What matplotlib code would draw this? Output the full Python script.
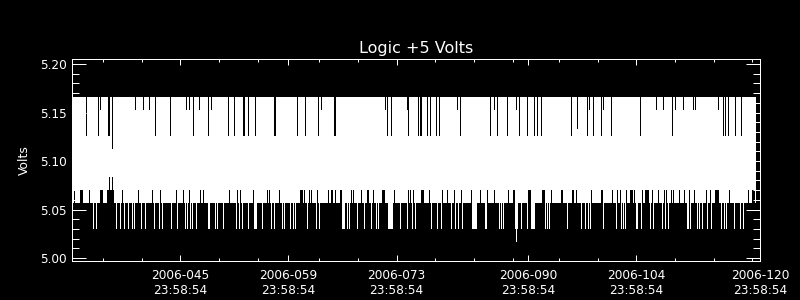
import datetime as dt
import numpy as np
import matplotlib
matplotlib.use("Agg")
import matplotlib.pyplot as plt
import matplotlib.dates as mdates

# ---- values (2006 day of year, fractional: 32.0 = doy 031 24:00) ----
data_start_doy = 32.0
data_end_doy = 120.37
bins_per_day = 688 / 89          # one max/min pair per ~3.1 h bin

band_top = 5.166                 # usual max in a bin
band_bottom = 5.058              # usual min in a bin

# bins where the max stayed lower
dip_153_days = [35.53, 40.06, 41.09, 41.87, 46.66, 47.05, 48.34, 49.94, 64.21, 72.40,
                75.21, 81.72, 86.50, 89.31, 98.79, 100.61, 107.42, 108.33, 109.88,
                110.96, 112.25, 112.51, 115.44]
dip_126_days = [33.77, 35.27, 36.57, 36.70, 42.65, 44.59, 47.62, 49.47, 52.09, 52.87,
                54.08, 54.21, 54.68, 55.58, 58.04, 58.17, 61.02, 62.14, 63.70, 65.80,
                65.93, 72.71, 73.14, 75.38, 76.67, 76.96, 77.09, 77.80, 78.19, 79.00,
                79.39, 82.07, 85.99, 86.85, 88.15, 89.74, 90.82, 91.68, 92.12, 92.55,
                96.52, 98.50, 99.31, 100.31, 101.60, 105.39, 109.49, 116.13, 116.35,
                116.74, 117.68, 118.42]
dip_other_days = [37.05, 97.24]
dip_other_volts = [5.112, 5.133]

# bins where the min stayed higher
low_071_days = [32.17, 33.03, 33.16, 33.29, 34.11, 35.53, 35.66, 35.79, 36.49, 36.62,
                36.88, 37.01, 37.27, 38.43, 40.50, 42.31, 43.38, 45.33, 46.32, 47.05,
                48.47, 48.91, 52.22, 53.22, 53.73, 55.29, 57.19, 57.40, 58.04, 58.69,
                60.11, 61.41, 61.54, 61.67, 62.01, 62.57, 62.79, 63.57, 63.95, 65.08,
                65.38, 65.60, 65.93, 66.58, 66.71, 68.06, 68.31, 69.26, 70.04, 70.16,
                70.29, 70.90, 72.07, 72.20, 72.33, 73.57, 75.38, 75.64, 76.03, 77.02,
                77.15, 77.28, 78.10, 79.74, 80.39, 81.33, 82.20, 83.49, 84.69, 85.56,
                86.59, 88.32, 88.96, 89.09, 90.90, 91.03, 91.16, 92.71, 92.84, 92.97,
                93.84, 95.13, 95.26, 96.56, 96.69, 97.07, 99.01, 100.31, 100.44, 101.73,
                102.38, 102.77, 103.54, 104.06, 104.19, 104.32, 104.62, 105.61, 106.00,
                106.13, 106.26, 106.39, 106.91, 107.72, 108.50, 108.81, 109.36, 109.71,
                110.44, 111.08, 111.73, 112.38, 113.89, 114.45, 115.10, 115.22, 115.35,
                115.48, 116.91, 119.36, 119.93, 120.06, 120.19]
low_085_days = [36.70, 37.05]
# bins where the min dropped lower
low_031_days = [34.59, 34.98, 37.69, 38.08, 38.60, 39.12, 39.72, 40.02, 40.80, 41.44,
                42.48, 43.13, 43.64, 44.68, 45.58, 46.49, 46.75, 47.14, 47.52, 48.04,
                49.47, 49.72, 50.37, 50.63, 51.41, 53.09, 53.48, 53.99, 54.64, 55.67,
                55.42, 55.80, 56.54, 57.62, 58.13, 59.13, 59.34, 60.20, 60.55, 60.76,
                62.36, 63.44, 63.86, 66.80, 66.93, 67.06, 67.54, 67.75, 68.83, 69.69,
                70.55, 71.20, 71.55, 72.75, 72.88, 73.01, 73.14, 73.27, 74.43, 75.30,
                75.86, 76.37, 78.44, 79.18, 79.61, 80.90, 81.46, 81.90, 82.42, 83.62,
                83.75, 83.88, 84.01, 84.14, 85.34, 85.47, 87.15, 87.37, 87.67, 89.18,
                89.44, 89.96, 90.73, 91.25, 91.38, 91.51, 91.64, 93.10, 93.41, 93.62,
                96.00, 97.72, 98.28, 98.72, 98.88, 100.57, 102.25, 102.90, 103.24,
                103.41, 104.84, 105.06, 105.48, 106.69, 107.13, 108.20, 108.63, 109.07,
                111.43, 111.60, 111.86, 112.82, 113.02, 113.37, 114.11, 114.54, 115.92,
                116.26, 116.57, 117.55, 118.33, 118.77]
low_018_days = [89.31]

# axis ticks (day of year at 23:58:54)
major_doy = [45, 59, 73, 90, 104, 120]
minor_doy = [35, 40, 50, 55, 63, 68, 78, 83, 88, 94, 99, 109, 114, 119]
axis_start_doy = 31
axis_end_doy = 120
tick_clock = dt.timedelta(hours=23, minutes=58, seconds=54)


def doy_to_num(doy):
    return mdates.date2num(dt.datetime(2006, 1, 1)) + np.asarray(doy, dtype=float) - 1


def tick_num(doy):
    return mdates.date2num(dt.datetime(2006, 1, 1) + dt.timedelta(days=doy - 1) + tick_clock)


def bin_of(days):
    return ((np.asarray(days) - data_start_doy) * bins_per_day).astype(int)


n_bins = int((data_end_doy - data_start_doy) * bins_per_day)
bin_doy = data_start_doy + (np.arange(n_bins) + 0.5) / bins_per_day
vmax = np.full(n_bins, band_top)
vmin = np.full(n_bins, band_bottom)
vmax[bin_of(dip_153_days)] = 5.153
vmax[bin_of(dip_126_days)] = 5.126
vmax[bin_of(dip_other_days)] = dip_other_volts
vmin[bin_of(low_071_days)] = 5.071
vmin[bin_of(low_031_days)] = 5.031
vmin[bin_of(low_085_days)] = 5.085
vmin[bin_of(low_018_days)] = 5.018

px = 0.72  # one pixel in points at dpi 100

fig = plt.figure(figsize=(8, 3), dpi=100, facecolor='black')
ax = fig.add_axes([72 / 800, 39 / 300, 688 / 800, 202 / 300], facecolor='black')

ax.vlines(doy_to_num(bin_doy), vmin, vmax, colors='white', linewidth=px, antialiased=False)

ax.set_xlim(tick_num(axis_start_doy), tick_num(axis_end_doy))
ax.set_ylim(4.9969, 5.2052)

ax.set_xticks([tick_num(d) for d in major_doy],
              ['2006-%03d\n23:58:54' % d for d in major_doy])
ax.set_xticks([tick_num(d) for d in minor_doy], minor=True)
ax.set_yticks([5.00, 5.05, 5.10, 5.15, 5.20], ['5.00', '5.05', '5.10', '5.15', '5.20'])
ax.set_yticks(np.arange(5.00, 5.2001, 0.01), minor=True)

ax.tick_params(which='both', direction='in', colors='white', width=px,
               top=True, right=True, labelsize=8.7)
ax.tick_params(axis='x', which='major', length=6 * px, pad=5.5)
ax.tick_params(axis='x', which='minor', length=3 * px)
ax.tick_params(axis='y', which='major', length=14 * px, pad=3.8)
ax.tick_params(axis='y', which='minor', length=7 * px)
for side in ax.spines.values():
    side.set_color('white')
    side.set_linewidth(px)

ax.set_title('Logic +5 Volts', color='white', fontsize=11.5, pad=4.5)
ax.set_ylabel('Volts', color='white', fontsize=8.9)
ax.yaxis.set_label_coords(-0.06, 0.5)

fig.savefig('out.png', dpi=100, facecolor='black')
